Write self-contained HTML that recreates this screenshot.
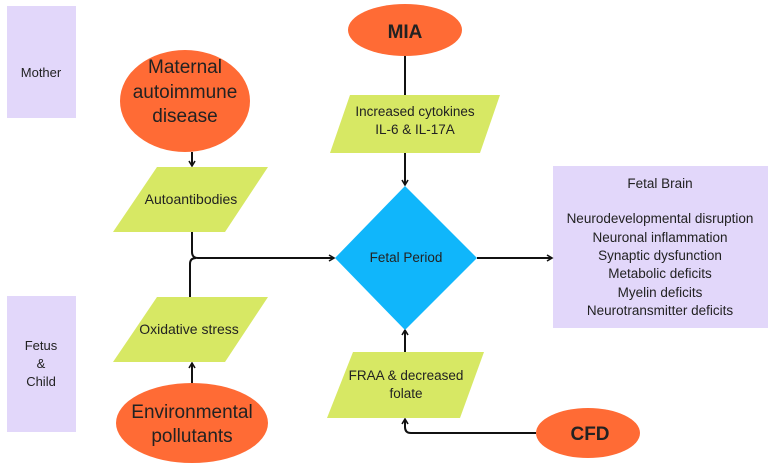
<!DOCTYPE html>
<html><head><style>
html,body{margin:0;padding:0;background:#fff;}
svg{display:block;}
text{font-family:"Liberation Sans",sans-serif;fill:#222;}
</style></head><body>
<svg width="777" height="472" viewBox="0 0 777 472" xmlns="http://www.w3.org/2000/svg">
<defs><marker id="a" markerWidth="8" markerHeight="8" refX="6" refY="4" orient="auto" markerUnits="userSpaceOnUse"><path d="M1,1 L6,4 L1,7" fill="none" stroke="#111" stroke-width="1.6"/></marker></defs>
<rect x="7" y="6" width="69" height="112" fill="#e2d7fa"/>
<text x="41" y="77" font-size="13" text-anchor="middle">Mother</text>
<rect x="7" y="296" width="69" height="136" fill="#e2d7fa"/>
<text x="41" y="350" font-size="13" text-anchor="middle">Fetus</text>
<text x="41" y="368" font-size="13" text-anchor="middle">&amp;</text>
<text x="41" y="386" font-size="13" text-anchor="middle">Child</text>
<rect x="553" y="166" width="215" height="162" fill="#e2d7fa"/>
<g font-size="13.5" text-anchor="middle">
<text x="660" y="188">Fetal Brain</text>
<text x="660" y="223">Neurodevelopmental disruption</text>
<text x="660" y="242">Neuronal inflammation</text>
<text x="660" y="260">Synaptic dysfunction</text>
<text x="660" y="278">Metabolic deficits</text>
<text x="660" y="297">Myelin deficits</text>
<text x="660" y="315">Neurotransmitter deficits</text>
</g>
<g stroke="#111" stroke-width="2" fill="none">
<line x1="192" y1="152" x2="192" y2="166" marker-end="url(#a)"/>
<path d="M192,232 V252 Q192,258 198,258 H334" marker-end="url(#a)"/>
<path d="M190,297 V264 Q190,258 196,258"/>
<line x1="192" y1="385" x2="192" y2="363" marker-end="url(#a)"/>
<line x1="405" y1="55" x2="405" y2="95"/>
<line x1="405" y1="153" x2="405" y2="185" marker-end="url(#a)"/>
<line x1="405" y1="352" x2="405" y2="330" marker-end="url(#a)"/>
<path d="M536,433 H411 Q405,433 405,427 V419" marker-end="url(#a)"/>
<line x1="477" y1="258" x2="552" y2="258" marker-end="url(#a)"/>
</g>
<ellipse cx="185" cy="101" rx="65" ry="51" fill="#ff6b35"/>
<g font-size="19" text-anchor="middle"><text x="185" y="73">Maternal</text><text x="185" y="98">autoimmune</text><text x="185" y="122">disease</text></g>
<polygon points="157,167 268,167 225,232 113,232" fill="#d7e864"/>
<text x="191" y="204" font-size="14" text-anchor="middle">Autoantibodies</text>
<polygon points="157,297 268,297 225,362 113,362" fill="#d7e864"/>
<text x="189" y="334" font-size="14" text-anchor="middle">Oxidative stress</text>
<ellipse cx="192" cy="423" rx="76" ry="40" fill="#ff6b35"/>
<g font-size="19" text-anchor="middle"><text x="192" y="418">Environmental</text><text x="192" y="442">pollutants</text></g>
<ellipse cx="405" cy="30" rx="57" ry="26" fill="#ff6b35"/>
<text x="405" y="38" font-size="19" font-weight="bold" text-anchor="middle">MIA</text>
<polygon points="350,95 500,95 480,153 330,153" fill="#d7e864"/>
<text x="415" y="116" font-size="13.5" text-anchor="middle">Increased cytokines</text>
<text x="415" y="134" font-size="13.5" text-anchor="middle">IL-6 &amp; IL-17A</text>
<polygon points="405,186 477,258 405,330 335,258" fill="#10b6fb"/>
<text x="406" y="262" font-size="13.5" text-anchor="middle">Fetal Period</text>
<polygon points="353,352 484,352 460,418 327,418" fill="#d7e864"/>
<text x="406" y="380" font-size="13.5" text-anchor="middle">FRAA &amp; decreased</text>
<text x="406" y="398" font-size="13.5" text-anchor="middle">folate</text>
<ellipse cx="588" cy="433" rx="52" ry="25" fill="#ff6b35"/>
<text x="590" y="440" font-size="19" font-weight="bold" text-anchor="middle">CFD</text>
</svg>
</body></html>
